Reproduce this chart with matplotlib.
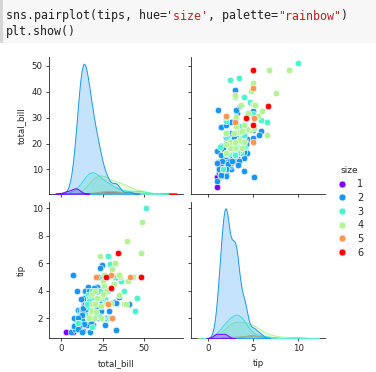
import numpy as np
import matplotlib
matplotlib.use("Agg")
import matplotlib.pyplot as plt
from matplotlib.lines import Line2D
from matplotlib.patches import Rectangle

# tips dataset, split by party size
bill_size1 = [3.07, 10.07, 7.25, 8.58]
tip_size1 = [1.0, 1.83, 1.0, 1.92]

bill_size2 = [16.99, 23.68, 8.77, 15.04, 14.78, 10.27, 15.42, 14.83, 21.58, 17.92,
              20.29, 15.77, 19.82, 13.37, 12.69, 21.7, 19.65, 9.55, 15.06, 17.78,
              17.46, 13.94, 9.68, 18.29, 22.23, 18.04, 12.54, 10.29, 9.94, 19.49,
              26.41, 11.24, 20.29, 13.81, 11.02, 16.45, 20.23, 15.01, 12.02, 26.86,
              25.28, 14.73, 10.51, 17.92, 22.76, 17.29, 19.44, 16.66, 32.68, 15.98,
              13.03, 18.28, 24.71, 21.16, 28.97, 22.49, 5.75, 16.32, 22.75, 27.28,
              12.03, 21.01, 12.46, 11.35, 15.38, 22.42, 20.92, 15.36, 20.49, 25.21,
              18.24, 14.31, 14.0, 23.95, 17.31, 10.65, 12.43, 11.69, 13.42, 14.26,
              15.95, 12.48, 8.52, 14.52, 11.38, 19.08, 20.27, 11.17, 12.26, 18.26,
              8.51, 10.33, 14.15, 16.0, 13.16, 17.47, 16.43, 8.35, 11.87, 9.78,
              7.51, 14.07, 13.13, 13.39, 12.66, 13.81, 17.51, 20.76, 10.59, 10.63,
              15.81, 7.25, 31.85, 16.82, 32.9, 17.89, 14.48, 9.6, 34.63, 23.33,
              40.55, 15.69, 19.81, 28.44, 15.48, 16.58, 7.56, 10.34, 13.0, 13.51,
              12.74, 13.0, 16.4, 24.27, 12.76, 13.27, 12.9, 11.59, 7.74, 12.16,
              13.42, 13.42, 16.27, 10.09, 13.28, 22.12, 11.61, 10.77, 15.53, 10.07,
              12.6, 32.83, 27.18, 22.67, 17.82, 18.78]
tip_size2 = [1.01, 3.31, 2.0, 1.96, 3.23, 1.71, 1.57, 3.02, 3.92, 4.08,
             2.75, 2.23, 3.18, 2.0, 2.0, 4.3, 3.0, 1.45, 3.0, 3.27,
             2.54, 3.06, 1.32, 3.0, 5.0, 3.0, 2.5, 2.6, 1.56, 3.51,
             1.5, 1.76, 3.21, 2.0, 1.98, 2.47, 2.01, 2.09, 1.97, 3.14,
             5.0, 2.2, 1.25, 3.08, 3.0, 2.71, 3.0, 3.4, 5.0, 2.03,
             2.0, 4.0, 5.85, 3.0, 3.0, 3.5, 1.0, 4.3, 3.25, 4.0,
             1.5, 3.0, 1.5, 2.5, 3.0, 3.48, 4.08, 1.64, 4.06, 4.29,
             3.76, 4.0, 3.0, 2.55, 3.5, 1.5, 1.8, 2.31, 1.68, 2.5,
             2.0, 2.52, 1.48, 2.0, 2.0, 1.5, 2.83, 1.5, 2.0, 3.25,
             1.25, 2.0, 2.0, 2.0, 2.75, 3.5, 2.3, 1.5, 1.63, 1.73,
             2.0, 2.5, 2.0, 2.61, 2.5, 2.0, 3.0, 2.24, 1.61, 2.0,
             3.16, 5.15, 3.18, 4.0, 3.11, 2.0, 2.0, 4.0, 3.55, 5.65,
             3.0, 1.5, 4.19, 2.56, 2.02, 4.0, 1.44, 2.0, 2.0, 2.0,
             2.01, 2.0, 2.5, 2.03, 2.23, 2.5, 1.1, 1.5, 1.44, 2.2,
             3.48, 1.58, 2.5, 2.0, 2.72, 2.88, 3.39, 1.47, 3.0, 1.25,
             1.0, 1.17, 2.0, 2.0, 1.75, 3.0]

bill_size3 = [10.34, 21.01, 10.33, 16.29, 16.97, 20.65, 24.06, 16.31, 16.93, 18.69,
              31.27, 16.04, 28.55, 17.59, 20.08, 17.07, 44.3, 38.07, 25.71, 22.82,
              18.64, 17.26, 16.21, 24.52, 50.81, 45.35, 20.9, 18.15, 23.1, 18.71,
              16.47, 26.59, 30.06, 28.17, 15.98, 15.69, 35.83, 29.03]
tip_size3 = [1.66, 3.5, 1.67, 3.71, 3.5, 3.35, 3.6, 2.0, 3.07, 2.31,
             5.0, 2.24, 2.05, 2.64, 3.15, 3.0, 2.5, 4.0, 4.0, 2.18,
             1.36, 2.74, 2.0, 3.48, 10.0, 3.5, 3.5, 3.5, 4.0, 4.0,
             3.23, 3.41, 2.0, 6.5, 3.0, 3.0, 4.67, 5.92]

bill_size4 = [24.59, 25.29, 26.88, 35.26, 18.43, 39.42, 17.81, 18.35, 20.69, 30.4,
              32.4, 34.81, 25.56, 38.01, 48.27, 18.29, 27.2, 34.83, 40.17, 29.93,
              24.08, 24.55, 19.77, 25.0, 16.49, 21.5, 31.71, 34.65, 23.17, 43.11,
              20.53, 38.73, 25.89, 48.33, 30.14, 20.45, 24.01]
tip_size4 = [3.61, 4.71, 3.12, 5.0, 3.0, 7.58, 2.34, 2.5, 2.45, 5.6,
             6.0, 5.2, 4.34, 3.0, 6.73, 3.76, 4.0, 5.17, 4.73, 5.07,
             2.92, 2.0, 2.0, 3.75, 2.0, 3.5, 4.5, 3.68, 6.5, 5.0,
             4.0, 3.0, 5.16, 9.0, 3.09, 3.0, 2.0]

bill_size5 = [41.19, 29.85, 20.69, 30.46, 28.15]
tip_size5 = [5.0, 5.14, 5.0, 2.0, 3.0]

bill_size6 = [29.8, 34.3, 27.05, 48.17]
tip_size6 = [4.2, 6.7, 5.0, 5.0]

size_levels = [1, 2, 3, 4, 5, 6]
bills = [bill_size1, bill_size2, bill_size3, bill_size4, bill_size5, bill_size6]
tips = [tip_size1, tip_size2, tip_size3, tip_size4, tip_size5, tip_size6]

# numeric hue -> continuous "rainbow" colormap over min..max size
norm = plt.Normalize(min(size_levels), max(size_levels))
colors = [plt.cm.rainbow(norm(s)) for s in size_levels]
n_total = sum(len(b) for b in bills)


def kde(values, n_all):
    """Gaussian KDE with Scott's rule, scaled by group share (common_norm)."""
    x = np.asarray(values, dtype=float)
    n = len(x)
    bw = n ** (-1 / 5) * np.std(x, ddof=1)
    grid = np.linspace(x.min() - 3 * bw, x.max() + 3 * bw, 200)
    dens = np.exp(-0.5 * ((grid[:, None] - x[None, :]) / bw) ** 2).sum(axis=1)
    dens /= n * bw * np.sqrt(2 * np.pi)
    return grid, dens * n / n_all


plt.rcParams['font.family'] = ['DejaVu Sans']
plt.rcParams['font.size'] = 6.2
plt.rcParams['axes.linewidth'] = 0.6
plt.rcParams['xtick.major.width'] = 0.6
plt.rcParams['ytick.major.width'] = 0.6
plt.rcParams['xtick.major.size'] = 2.5
plt.rcParams['ytick.major.size'] = 2.5
plt.rcParams['xtick.major.pad'] = 2
plt.rcParams['ytick.major.pad'] = 2
for key in ['axes.edgecolor', 'xtick.color', 'ytick.color', 'text.color', 'axes.labelcolor']:
    plt.rcParams[key] = '#262626'

fig, axes = plt.subplots(2, 2, sharex='col', sharey='row', figsize=(3.76, 3.72), dpi=100)
fig.subplots_adjust(left=49 / 376, right=325 / 376, top=1 - 57.3 / 372,
                    bottom=1 - 338.2 / 372, wspace=0.064, hspace=0.06)

columns = [bills, tips]
for i in range(2):
    for j in range(2):
        ax = axes[i, j]
        for side in ['top', 'right']:
            ax.spines[side].set_visible(False)
        if i == j:
            diag = ax.twinx()
            diag.set_axis_off()
            # seaborn draws hue levels in reverse order
            for k in reversed(range(len(size_levels))):
                grid, dens = kde(columns[j][k], n_total)
                poly = diag.fill_between(grid, 0, dens, facecolor=(*colors[k][:3], 0.25),
                                         edgecolor=colors[k], linewidth=0.7)
                poly.sticky_edges.y[:] = [0, np.inf]
        else:
            for k in range(len(size_levels)):
                ax.scatter(columns[j][k], columns[i][k], s=22, color=colors[k],
                           edgecolor='white', linewidth=0.4)

axes[1, 0].set_xticks([0, 25, 50])
axes[1, 1].set_xticks([0, 5, 10])
axes[0, 0].set_yticks([10, 20, 30, 40, 50])
axes[1, 0].set_yticks([2, 4, 6, 8, 10])
axes[0, 0].set_ylabel('total_bill')
axes[1, 0].set_ylabel('tip')
axes[1, 0].set_xlabel('total_bill')
axes[1, 1].set_xlabel('tip')

handles = [Line2D([], [], marker='o', linestyle='', markersize=5, markerfacecolor=c,
                  markeredgecolor='white', markeredgewidth=0.4) for c in colors]
fig.legend(handles, [str(s) for s in size_levels], title='size', loc='center left',
           bbox_to_anchor=(327 / 376, 1 - 212 / 372), frameon=False,
           handlelength=1.2, handletextpad=1.0, labelspacing=0.38,
           title_fontsize=6.5, fontsize=7)

# notebook cell header with the code
fig.patches.append(Rectangle((0, 1 - 43 / 372), 1, 43 / 372, transform=fig.transFigure,
                             facecolor='#f7f7f7', edgecolor='none', zorder=0))
fig.patches.append(Rectangle((0, 1 - 43 / 372), 3 / 376, 43 / 372, transform=fig.transFigure,
                             facecolor='#d6d6d6', edgecolor='none', zorder=0))

code_lines = [
    [("sns.pairplot(tips, hue=", '#202020'), ("'size'", '#ba2121'),
     (", palette=", '#202020'), ('"rainbow"', '#ba2121'), (")", '#202020')],
    [("plt.show()", '#202020')],
]
char_w = 6.97
for segments, base_y in zip(code_lines, [19.5, 34.5]):
    pos = 0
    for txt, col in segments:
        fig.text((6 + pos * char_w) / 376, 1 - base_y / 372, txt, color=col,
                 family='DejaVu Sans Mono', fontsize=8.35, va='baseline', ha='left')
        pos += len(txt)

fig.savefig('out.png', dpi=100)
